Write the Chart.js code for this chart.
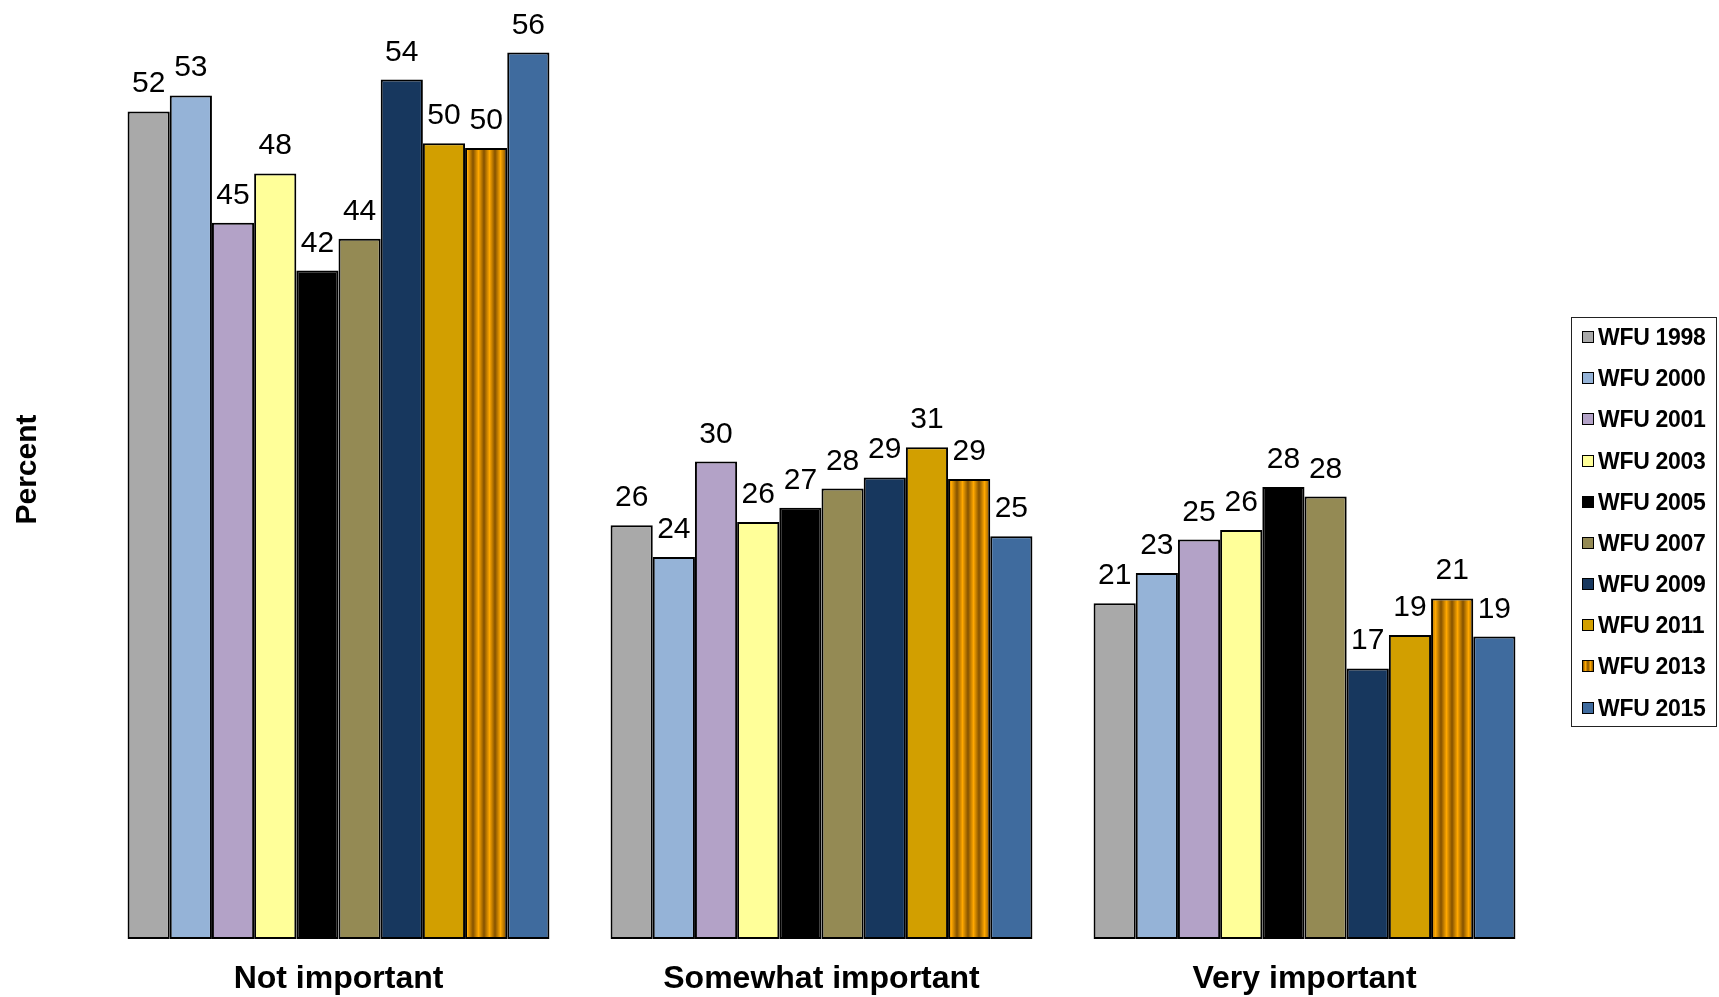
<!DOCTYPE html>
<html>
<head>
<meta charset="utf-8">
<script src="https://cdn.jsdelivr.net/npm/chart.js@4/dist/chart.umd.min.js"></script>
<style>
  html, body { margin: 0; padding: 0; background: #fff; }
  #wrap { position: relative; width: 1719px; height: 997px; }
  #c { position: absolute; left: 0; top: 0; }
  #legend { position: absolute; left: 1571px; top: 317px; width: 146px; height: 410px;
            border: 1px solid #222; box-sizing: border-box; font-family: "Liberation Sans", Arial, sans-serif; }
  .item { position: absolute; left: 0; height: 30px; line-height: 30px; white-space: nowrap;
          font-weight: bold; font-size: 23px; color: #000; }
  .sw { position: absolute; left: 10px; top: 9px; width: 12px; height: 12px; box-sizing: border-box;
        border: 1.5px solid #000; }
  .txt { position: absolute; left: 26px; top: 0; letter-spacing: -0.3px; }
</style>
</head>
<body>
<div id="wrap">
  <canvas id="c" width="1719" height="997"></canvas>
  <div id="legend"></div>
</div>
<script>
// ---- data ----
const categories = ["Not important", "Somewhat important", "Very important"];
const seriesNames = ["WFU 1998", "WFU 2000", "WFU 2001", "WFU 2003", "WFU 2005",
                     "WFU 2007", "WFU 2009", "WFU 2011", "WFU 2013", "WFU 2015"];
const wfu1998 = [52.0, 26.0, 21.1];
const wfu2000 = [53.0, 24.0, 23.0];
const wfu2001 = [45.0, 30.0, 25.1];
const wfu2003 = [48.1, 26.2, 25.7];
const wfu2005 = [42.0, 27.1, 28.4];
const wfu2007 = [44.0, 28.3, 27.8];
const wfu2009 = [54.0, 29.0, 17.0];
const wfu2011 = [50.0, 30.9, 19.1];
const wfu2013 = [49.7, 28.9, 21.4];
const wfu2015 = [55.7, 25.3, 19.0];
const seriesValues = [wfu1998, wfu2000, wfu2001, wfu2003, wfu2005,
                      wfu2007, wfu2009, wfu2011, wfu2013, wfu2015];
const seriesColors = ["#A9A9A9", "#95B3D7", "#B3A2C7", "#FFFF99", "#000000",
                      "#948A54", "#17375E", "#D29F00", "STRIPES", "#3F6B9E"];

// striped pattern for WFU 2013
function makeStripePattern() {
  const pc = document.createElement('canvas');
  pc.width = 11; pc.height = 4;
  const g = pc.getContext('2d');
  const grad = g.createLinearGradient(0, 0, 11, 0);
  grad.addColorStop(0, '#845200');
  grad.addColorStop(0.5, '#FFA800');
  grad.addColorStop(1, '#845200');
  g.fillStyle = grad;
  g.fillRect(0, 0, 11, 4);
  return document.getElementById('c').getContext('2d').createPattern(pc, 'repeat');
}
const stripe = makeStripePattern();

const FONT = '"Liberation Sans", Arial, sans-serif';

const valueLabels = {
  id: 'valueLabels',
  afterDatasetsDraw(chart) {
    const ctx = chart.ctx;
    ctx.save();
    ctx.font = '30px ' + FONT;
    ctx.fillStyle = '#000';
    ctx.textAlign = 'center';
    ctx.textBaseline = 'alphabetic';
    chart.data.datasets.forEach((ds, i) => {
      const meta = chart.getDatasetMeta(i);
      meta.data.forEach((el, j) => {
        ctx.fillText(String(Math.round(ds.data[j])), el.x, el.y - 19);
      });
    });
    ctx.restore();
  }
};

const datasets = seriesNames.map((name, i) => ({
  label: name,
  data: seriesValues[i],
  backgroundColor: seriesColors[i] === 'STRIPES' ? stripe : seriesColors[i],
  borderColor: '#000',
  borderWidth: 2,
  borderSkipped: false,
  categoryPercentage: 0.8734,
  barPercentage: 1.0
}));

new Chart(document.getElementById('c'), {
  type: 'bar',
  data: { labels: categories, datasets },
  options: {
    responsive: false,
    animation: false,
    devicePixelRatio: 1,
    layout: { padding: { left: 6, right: 173, top: 0, bottom: 1 } },
    plugins: { legend: { display: false }, tooltip: { enabled: false } },
    scales: {
      x: {
        grid: { display: false, drawTicks: false },
        border: { display: false },
        ticks: { color: '#000', padding: 21, font: { family: FONT, size: 32, weight: 'bold' } },
        afterFit: (s) => { s.height = 57; }
      },
      y: {
        min: 0, max: 59,
        grid: { display: false, drawTicks: false },
        border: { display: false },
        ticks: { display: false },
        title: { display: true, text: 'Percent', color: '#000',
                 padding: { top: 4, bottom: 51 },
                 font: { family: FONT, size: 30, weight: 'bold' } }
      }
    }
  },
  plugins: [valueLabels]
});

// legend
const leg = document.getElementById('legend');
seriesNames.forEach((name, i) => {
  const item = document.createElement('div');
  item.className = 'item';
  item.style.top = (337 - 318 - 15 + 41.17 * i) + 'px';
  const sw = document.createElement('span');
  sw.className = 'sw';
  if (seriesColors[i] === 'STRIPES') {
    sw.style.background = 'repeating-linear-gradient(90deg, #845200 0px, #FFA800 2.5px, #845200 5px)';
  } else {
    sw.style.background = seriesColors[i];
  }
  const t = document.createElement('span');
  t.className = 'txt';
  t.textContent = name;
  item.appendChild(sw);
  item.appendChild(t);
  leg.appendChild(item);
});
</script>
</body>
</html>
